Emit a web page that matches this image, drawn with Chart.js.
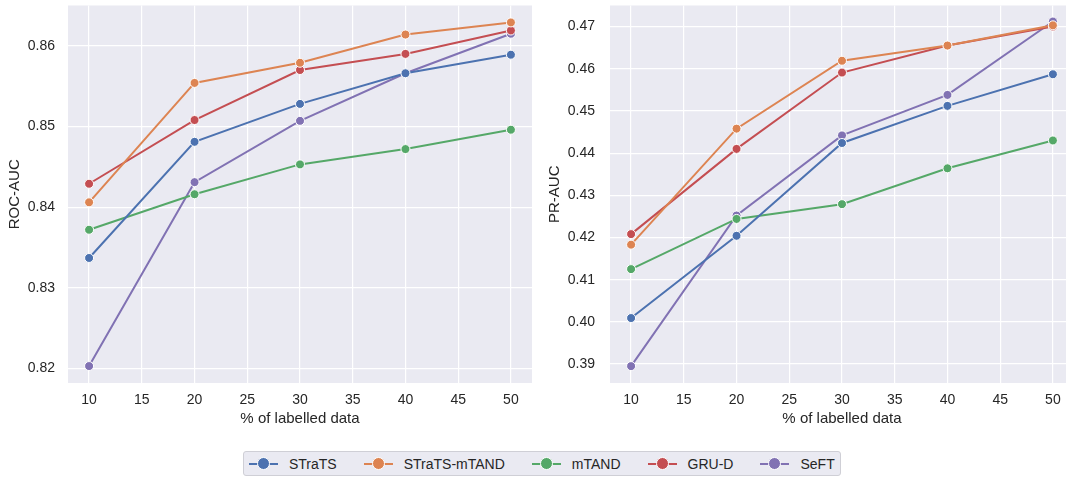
<!DOCTYPE html>
<html>
<head>
<meta charset="utf-8">
<script src="https://cdn.jsdelivr.net/npm/chart.js@4"></script>
<style>
  html, body { margin: 0; padding: 0; background: #ffffff; overflow: hidden; }
  body { width: 1066px; height: 477px; position: relative; font-family: "Liberation Sans", Arial, sans-serif; }
  .panel { position: absolute; top: 0; height: 440px; width: 540px; }
  #leftPanel { left: 0; }
  #rightPanel { left: 540px; }
  #legend {
    position: absolute; left: 243px; top: 451px; height: 25px; width: fit-content;
    box-sizing: border-box; border: 1px solid #cfcfd6; border-radius: 3px; background: #eaeaf2;
    display: flex; align-items: center; padding-left: 5px; padding-right: 5px;
    font-size: 14px; color: #262626; white-space: nowrap;
  }
  .item { display: flex; align-items: center; margin-right: 27px; flex-shrink: 0; }
  .item:last-child { margin-right: 0; }
  .swatch { position: relative; width: 29px; height: 13px; margin-right: 11px; }
  .swatch .ln { position: absolute; left: 0; right: 0; top: 5.5px; height: 2px; }
  .swatch .dot { position: absolute; left: 8px; top: 0; width: 13px; height: 13px; border-radius: 50%; box-sizing: border-box; border: 1px solid #fff; }
</style>
</head>
<body>
<div class="panel" id="leftPanel"><canvas id="rocChart"></canvas></div>
<div class="panel" id="rightPanel"><canvas id="prChart"></canvas></div>
<div id="legend"></div>

<script>
// --- data ---
const labelled = [10, 20, 30, 40, 50];
const seriesNames = ['STraTS', 'STraTS-mTAND', 'mTAND', 'GRU-D', 'SeFT'];
const seriesColors = ['#4c72b0', '#dd8452', '#55a868', '#c44e52', '#8172b3'];

// ROC-AUC per model
const rocStrats      = [0.8337, 0.8481, 0.8528, 0.8566, 0.8589];
const rocStratsMtand = [0.8406, 0.8554, 0.8579, 0.8614, 0.8629];
const rocMtand       = [0.8372, 0.8416, 0.8453, 0.8472, 0.8496];
const rocGrud        = [0.8429, 0.8508, 0.8570, 0.8590, 0.8619];
const rocSeft        = [0.8203, 0.8431, 0.8507, 0.8566, 0.8615];

// PR-AUC per model
const prStrats      = [0.4009, 0.4204, 0.4424, 0.4512, 0.4587];
const prStratsMtand = [0.4183, 0.4458, 0.4619, 0.4655, 0.4703];
const prMtand       = [0.4125, 0.4244, 0.4279, 0.4364, 0.4430];
const prGrud        = [0.4208, 0.4410, 0.4591, 0.4655, 0.4700];
const prSeft        = [0.3895, 0.4252, 0.4442, 0.4538, 0.4712];

// tick labels
const xTicks = [10, 15, 20, 25, 30, 35, 40, 45, 50];
const rocTicks = [0.82, 0.83, 0.84, 0.85, 0.86];
const prTicks = [0.39, 0.40, 0.41, 0.42, 0.43, 0.44, 0.45, 0.46, 0.47];

const FONT = '"Liberation Sans", Arial, sans-serif';
const TEXT = '#262626';

function makeDatasets(allValues) {
    return allValues.map((vals, i) => ({
        label: seriesNames[i],
        data: labelled.map((x, j) => ({ x: x, y: vals[j] })),
        borderColor: seriesColors[i],
        backgroundColor: seriesColors[i],
        pointBackgroundColor: seriesColors[i],
        pointBorderColor: '#ffffff',
        pointBorderWidth: 1,
        pointRadius: 4.5,
        borderWidth: 2,
        tension: 0
    }));
}

// background of the plotting area (seaborn darkgrid)
const plotBg = {
    id: 'plotBg',
    beforeDraw(chart) {
        const a = chart.chartArea;
        const ctx = chart.ctx;
        ctx.save();
        ctx.fillStyle = '#eaeaf2';
        ctx.fillRect(a.left, a.top, a.right - a.left, a.bottom - a.top);
        ctx.restore();
    }
};

function buildChart(canvasId, allValues, yTicks, yTitle, yMin, yMax, opts) {
    const ctx = document.getElementById(canvasId);
    return new Chart(ctx, {
        type: 'line',
        data: { datasets: makeDatasets(allValues) },
        plugins: [plotBg],
        options: {
            responsive: true,
            maintainAspectRatio: false,
            animation: false,
            layout: { padding: { top: 3, right: opts.padRight, left: 0, bottom: 0 } },
            plugins: { legend: { display: false }, tooltip: { enabled: false } },
            scales: {
                x: {
                    type: 'linear',
                    min: 8, max: 52,
                    afterBuildTicks: (s) => { s.ticks = xTicks.map(v => ({ value: v })); },
                    afterFit: (s) => { s.height = 57; s.paddingLeft = 0; s.paddingRight = 0; },
                    border: { display: false },
                    grid: { color: '#ffffff', lineWidth: 1.2, drawTicks: false },
                    ticks: { color: TEXT, padding: 9, font: { family: FONT, size: 14 } },
                    title: { display: true, text: '% of labelled data', color: TEXT,
                             font: { family: FONT, size: 15 }, padding: { top: 0, bottom: 12 } }
                },
                y: {
                    type: 'linear',
                    min: yMin, max: yMax,
                    afterBuildTicks: (s) => { s.ticks = yTicks.map(v => ({ value: v })); },
                    afterFit: (s) => { s.width = opts.yWidth; s.paddingTop = 0; s.paddingBottom = 0; },
                    border: { display: false },
                    grid: { color: '#ffffff', lineWidth: 1.2, drawTicks: false },
                    ticks: { color: TEXT, padding: opts.tickPad, font: { family: FONT, size: 14 },
                             callback: (v) => Number(v).toFixed(2) },
                    title: { display: true, text: yTitle, color: TEXT,
                             font: { family: FONT, size: 15 }, padding: { top: 6, bottom: 0 } }
                }
            }
        }
    });
}

buildChart('rocChart',
    [rocStrats, rocStratsMtand, rocMtand, rocGrud, rocSeft],
    rocTicks, 'ROC-AUC', 0.8182, 0.8650,
    { padRight: 8, yWidth: 68, tickPad: 13 });

// right panel runs past the page edge, as in the reference
buildChart('prChart',
    [prStrats, prStratsMtand, prMtand, prGrud, prSeft],
    prTicks, 'PR-AUC', 0.3855, 0.4750,
    { padRight: 6, yWidth: 70, tickPad: 15 });

// --- shared legend under both panels ---
const legend = document.getElementById('legend');
seriesNames.forEach((name, i) => {
    const item = document.createElement('div');
    item.className = 'item';
    item.innerHTML =
        '<span class="swatch"><span class="ln" style="background:' + seriesColors[i] + '"></span>' +
        '<span class="dot" style="background:' + seriesColors[i] + '"></span></span>' +
        '<span>' + name + '</span>';
    legend.appendChild(item);
});
</script>
</body>
</html>
